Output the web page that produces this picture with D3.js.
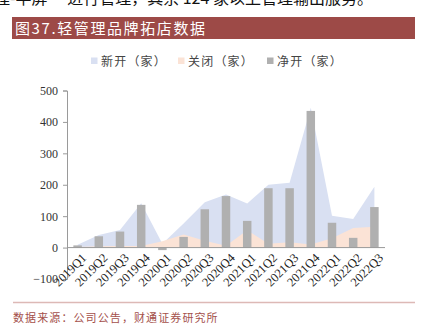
<!DOCTYPE html>
<html>
<head>
<meta charset="utf-8">
<script src="https://cdn.jsdelivr.net/npm/d3@7"></script>
<style>
  html, body { margin: 0; padding: 0; background: #fff; }
  svg { display: block; }
</style>
</head>
<body>
<svg id="chart" width="421" height="333"></svg>
<script>
// Quarterly store openings / closings / net openings for the light-management brand
const quarters = ["2019Q1","2019Q2","2019Q3","2019Q4","2020Q1","2020Q2","2020Q3","2020Q4",
                  "2021Q1","2021Q2","2021Q3","2021Q4","2022Q1","2022Q2","2022Q3"];
const opened = [9, 40, 56, 141, 12, 77, 144, 169, 140, 200, 206, 445, 101, 91, 194];
const closed = [2, 4, 5, 5, 20, 42, 22, 6, 55, 12, 17, 10, 30, 62, 66];
const netOpened = [7, 36, 51, 136, -8, 34, 122, 164, 85, 189, 189, 435, 79, 31, 129];
const yTicks = [-100, 0, 100, 200, 300, 400, 500];
const legendLabels = ["新开（家）", "关闭（家）", "净开（家）"];

const colors = { opened: "#D9E0F2", closed: "#FBE3D6", net: "#B0B0B0" };
const cjk = "'Noto Sans CJK SC', 'Noto Sans', sans-serif";
const serif = "'Liberation Serif', 'DejaVu Serif', serif";

const svg = d3.select("#chart");

// last line of the body text above the figure, running off the top edge
svg.append("text")
  .attr("x", -6).attr("y", 3.5)
  .attr("font-family", cjk).attr("font-size", 16).attr("fill", "#111")
  .text("理-半屏”  进行管理，其余 124 家以上管理输出服务。");

// figure title bar
svg.append("rect").attr("x", 12).attr("y", 17).attr("width", 403).attr("height", 22).attr("fill", "#9D4A47");
svg.append("text")
  .attr("x", 15).attr("y", 33.5)
  .attr("font-family", cjk).attr("font-size", 15).attr("letter-spacing", 1.6).attr("fill", "#fff")
  .text("图37.轻管理品牌拓店数据");

// scales
const x = d3.scalePoint().domain(quarters).range([67, 385]).padding(0.5);
const step = x.step();
const y = d3.scaleLinear().domain([-100, 500]).range([279, 90.5]);

const rows = quarters.map((q, i) => ({ q, opened: opened[i], closed: closed[i], net: netOpened[i] }));

// overlapping areas drawn from zero
const area = key => d3.area().x(d => x(d.q)).y0(y(0)).y1(d => y(d[key]));
svg.append("path").datum(rows).attr("d", area("opened")).attr("fill", colors.opened);
svg.append("path").datum(rows).attr("d", area("closed")).attr("fill", colors.closed);

// net-opening bars
const bw = step * 0.4;
svg.append("g").selectAll("rect").data(rows).join("rect")
  .attr("x", d => x(d.q) - bw / 2)
  .attr("y", d => y(Math.max(0, d.net)))
  .attr("width", bw)
  .attr("height", d => Math.abs(y(d.net) - y(0)))
  .attr("fill", colors.net);

// y axis
const yAxis = svg.append("g").attr("transform", "translate(67,0)")
  .call(d3.axisLeft(y).tickValues(yTicks).tickSize(4).tickPadding(5).tickFormat(d3.format("d")));
yAxis.select(".domain").attr("stroke", "#9a9a9a");
yAxis.selectAll(".tick line").attr("stroke", "#9a9a9a");
yAxis.selectAll(".tick text").attr("font-family", serif).attr("font-size", 12).attr("fill", "#333");

// category axis crossing at zero
const xAxis = svg.append("g").attr("transform", `translate(0,${y(0)})`)
  .call(d3.axisBottom(x).tickSize(0).tickPadding(0));
xAxis.select(".domain").attr("stroke", "#9a9a9a").attr("d", "M67,0H385");
xAxis.selectAll(".tick text")
  .attr("font-family", serif).attr("font-size", 12.5).attr("fill", "#222")
  .attr("text-anchor", "end")
  .attr("dy", "0.35em")
  .attr("transform", "translate(6,8) rotate(-45)");

// legend
const legendX = [91, 178, 267];
const lg = svg.append("g");
legendLabels.forEach((t, i) => {
  lg.append("rect").attr("x", legendX[i]).attr("y", 57.5).attr("width", 6.5).attr("height", 6.5)
    .attr("fill", [colors.opened, colors.closed, colors.net][i]);
  lg.append("text").attr("x", legendX[i] + 10).attr("y", 65.5)
    .attr("font-family", cjk).attr("font-size", 12).attr("letter-spacing", 1.2).attr("fill", "#444")
    .text(t);
});

// source footer
svg.append("line").attr("x1", 13).attr("x2", 415).attr("y1", 302.5).attr("y2", 302.5)
  .attr("stroke", "#DDB9B6").attr("stroke-width", 1.5);
svg.append("text")
  .attr("x", 13).attr("y", 322)
  .attr("font-family", cjk).attr("font-size", 11).attr("letter-spacing", 1.1).attr("fill", "#A4504B")
  .text("数据来源：公司公告，财通证券研究所");
</script>
</body>
</html>
